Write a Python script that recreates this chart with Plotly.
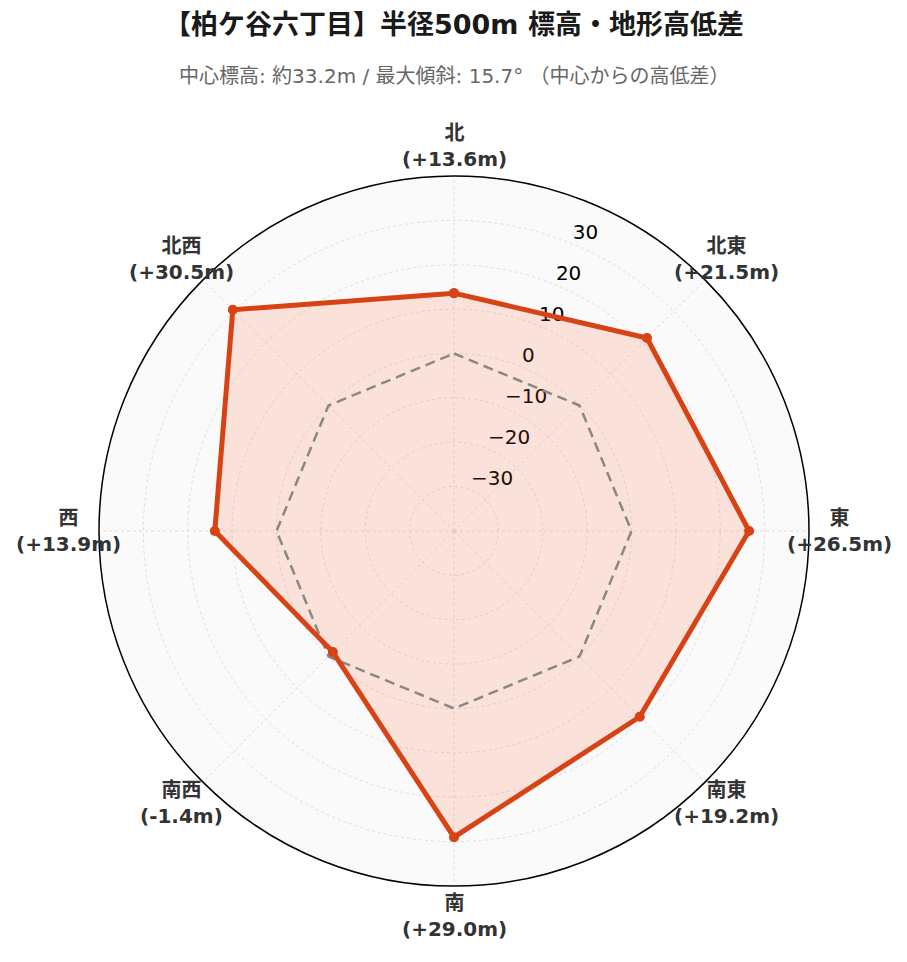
import math
import plotly.graph_objects as go

directions = ["北", "北東", "東", "南東", "南", "南西", "西", "北西"]
diffs = [13.6, 21.5, 26.5, 19.2, 29.0, -1.4, 13.9, 30.5]
zero_ref = [0, 0, 0, 0, 0, 0, 0, 0]
radial_ticks = [-30, -20, -10, 0, 10, 20, 30]
radial_tick_text = ["−30", "−20", "−10", "0", "10", "20", "30"]
direction_angles = [0, 45, 90, 135, 180, 225, 270, 315]

W, H = 907, 962
CX, CY, R = 446, 523, 355      # polar centre / radius in figure pixels
LABEL_R = R + 30
RADIAL_ANGLE = 67.5            # screen angle of the radial tick labels

FONT = "DejaVu Sans, Noto Sans CJK JP, sans-serif"
ORANGE = "#d84315"

theta_closed = directions + [directions[0]]
r_closed = diffs + [diffs[0]]
zero_closed = zero_ref + [zero_ref[0]]

fig = go.Figure()
# radial tick labels (base polar subplot, drawn beneath the data)
fig.add_trace(go.Scatterpolar(
    r=radial_ticks, theta=[90 - RADIAL_ANGLE] * len(radial_ticks),
    mode="text", text=radial_tick_text, textposition="top right",
    textfont=dict(size=20, color="black", family=FONT),
    hoverinfo="skip", showlegend=False, subplot="polar",
))
# fill of the elevation polygon
fig.add_trace(go.Scatterpolar(
    r=r_closed, theta=theta_closed, mode="lines",
    line=dict(color="rgba(0,0,0,0)", width=0),
    fill="toself", fillcolor="rgba(255,87,34,0.15)",
    hoverinfo="skip", showlegend=False, subplot="polar2",
))
# zero reference (centre elevation)
fig.add_trace(go.Scatterpolar(
    r=zero_closed, theta=theta_closed, mode="lines",
    line=dict(color="#888888", width=2.5, dash="10px,6px"),
    hoverinfo="skip", showlegend=False, subplot="polar2",
))
# elevation difference line
fig.add_trace(go.Scatterpolar(
    r=r_closed, theta=theta_closed, mode="lines+markers",
    line=dict(color=ORANGE, width=5),
    marker=dict(size=10, color=ORANGE),
    showlegend=False, subplot="polar2",
))

annotations = []
n = len(directions)
for i, (d, v) in enumerate(zip(directions, diffs)):
    ang = math.radians(90 - direction_angles[i])
    px = CX + LABEL_R * math.cos(ang)
    py = CY - LABEL_R * math.sin(ang)
    annotations.append(dict(
        text=f"<b>{d}<br>({v:+.1f}m)</b>", xref="paper", yref="paper",
        x=px / W, y=1 - py / H, xanchor="center", yanchor="middle",
        showarrow=False, align="center",
        font=dict(size=20, color="#333333", family=FONT),
    ))

annotations += [
    dict(text="<b>【柏ケ谷六丁目】半径500m 標高・地形高低差</b>", xref="paper", yref="paper",
         x=CX / W, y=1 - 17 / H, xanchor="center", yanchor="middle", showarrow=False,
         font=dict(size=27, color="#1a1a1a", family=FONT)),
    dict(text="中心標高: 約33.2m / 最大傾斜: 15.7° （中心からの高低差）", xref="paper", yref="paper",
         x=CX / W, y=1 - 68.5 / H, xanchor="center", yanchor="middle", showarrow=False,
         font=dict(size=20, color="#666666", family=FONT)),
]

domain = dict(x=[(CX - R) / W, (CX + R) / W], y=[1 - (CY + R) / H, 1 - (CY - R) / H])

fig.update_layout(
    width=W, height=H,
    paper_bgcolor="white",
    font=dict(family=FONT, color="#333333"),
    margin=dict(l=0, r=0, t=0, b=0),
    polar=dict(
        domain=domain,
        bgcolor="#fafafa",
        radialaxis=dict(
            range=[-40, 40], tickvals=radial_ticks, angle=RADIAL_ANGLE,
            showline=False, ticks="", showticklabels=False,
            gridcolor="#dcdcdc", griddash="dot", gridwidth=1,
        ),
        angularaxis=dict(
            type="linear", direction="clockwise", rotation=90,
            tickvals=direction_angles,
            showline=True, linecolor="black", linewidth=1.5,
            gridcolor="#dcdcdc", griddash="dot", gridwidth=1,
            ticks="", showticklabels=False,
        ),
    ),
    polar2=dict(
        domain=domain,
        bgcolor="rgba(0,0,0,0)",
        radialaxis=dict(range=[-40, 40], visible=False, showgrid=False),
        angularaxis=dict(direction="clockwise", rotation=90, visible=False,
                         showgrid=False, showline=False),
    ),
    annotations=annotations,
)

fig.write_html("out.html")
